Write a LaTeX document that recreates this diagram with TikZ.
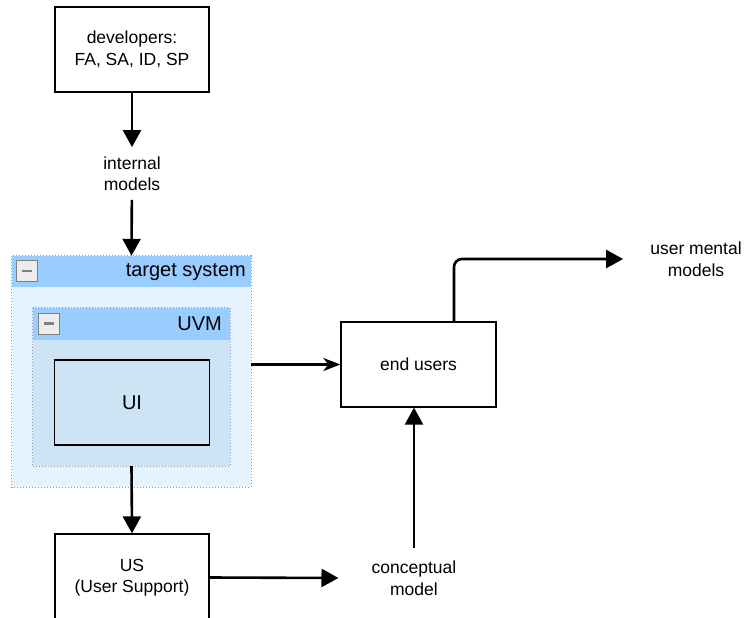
\documentclass[tikz,border=0pt]{standalone}
\usepackage{fontspec}
\setmainfont{Liberation Sans}
\usetikzlibrary{arrows.meta,positioning,calc}

\definecolor{headblue}{RGB}{153,204,255}
\definecolor{outerblue}{RGB}{228,243,253}
\definecolor{innerblue}{RGB}{205,228,244}
\definecolor{dotgray}{RGB}{140,155,190}
\definecolor{btngray}{RGB}{236,236,236}

\begin{document}
\begin{tikzpicture}[x=1pt, y=-1pt,
  every node/.style={font=\fontsize{17.5}{21.5}\selectfont, align=center},
  box/.style={draw, line width=1.3pt, fill=white, minimum width=154pt, minimum height=85pt, inner sep=0pt},
  container/.style={inner sep=0pt},
  dotborder/.style={draw=dotgray, dotted, line width=1pt},
  label/.style={inner xsep=0pt, inner ysep=9pt},
  headtext/.style={font=\fontsize{20}{24}\selectfont, inner sep=0pt, anchor=east},
  btn/.style={draw=gray, fill=btngray, line width=1pt, minimum size=21pt, inner sep=0pt,
    path picture={\draw[line width=2.6pt] ($(path picture bounding box.center)+(-5,0)$) -- ++(10,0);}},
  flow/.style={line width=2.6pt, -{Triangle[length=17pt,width=18pt]}},
  openflow/.style={line width=2.6pt, -{Stealth[length=17pt,width=13pt,inset=5pt]}}
]
  % Page size
  \useasboundingbox (0,0) rectangle (745,618);

  % Developers and their models
  \node[box] (dev) at (132,49.5) {developers:\\FA, SA, ID, SP};
  \node[label] (intm) at (132,173.5) {internal\\models};

  % Target system container
  \node[container, fill=outerblue, minimum width=239pt, minimum height=231pt] (ts) at (131.5,371.5) {};
  \fill[headblue] (ts.north west) rectangle ($(ts.north east)+(0,31)$);
  \draw[dotborder] (ts.north west) rectangle (ts.south east);
  \node[btn] (tsbtn) at (27,271) {};
  \node[headtext] (tslabel) at (246,272) {target system};

  % UVM container
  \node[container, fill=innerblue, minimum width=197pt, minimum height=158pt] (uvm) at (131.5,387) {};
  \fill[headblue] (uvm.north west) rectangle ($(uvm.north east)+(0,32)$);
  \draw[dotborder] (uvm.north west) rectangle (uvm.south east);
  \node[btn] (uvmbtn) at (48.5,323.5) {};
  \node[headtext] (uvmlabel) at (222,324) {UVM};

  % UI
  \node[box, fill=innerblue, minimum width=155pt, font=\fontsize{20}{24}\selectfont] (ui) at (132,402.5) {UI};

  % User support and end users
  \node[box, minimum height=87pt] (us) at (132,577.5) {US\\(User Support)};
  \node[box, minimum width=155pt] (eu) at (418.5,364.5) {end users};
  \node[label, inner xsep=33pt, inner ysep=13pt] (cm) at (414,578) {conceptual\\model};
  \node[label, inner xsep=27pt] (umm) at (696,259) {user mental\\models};

  % Connectors
  \draw[flow] (dev) -- (intm);
  \draw[flow] (intm) -- (ts.north);
  \draw[flow] (uvm.south) -- (us.north);
  \draw[openflow] (ts.east |- eu.west) -- (eu.west);
  \draw[flow] (us.east) -- (cm.west);
  \draw[flow] (cm.north) -- (cm.north |- eu.south);
  \draw[flow, rounded corners=8pt] ([xshift=35.5pt]eu.north) |- (umm.west);
\end{tikzpicture}
\end{document}
